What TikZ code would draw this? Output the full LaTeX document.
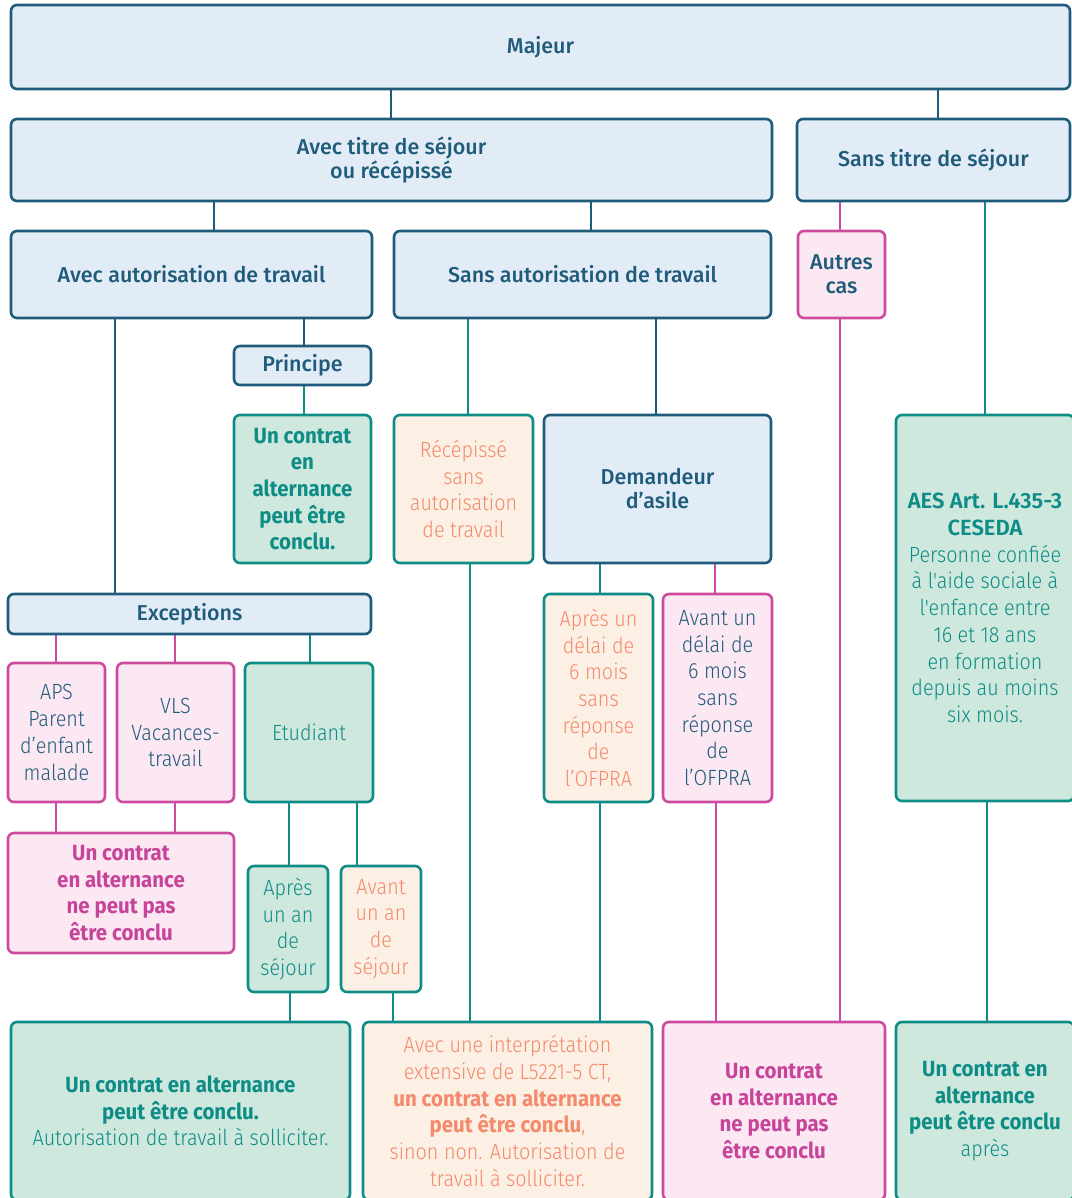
\documentclass[tikz,border=0pt]{standalone}
\usepackage{fontspec}
\setmainfont{Fira Sans}
\newfontfamily\hdf{Fira Sans Medium}
\newfontfamily\hdbf{Fira Sans SemiBold}
\newfontfamily\ltf{Fira Sans Light}[FakeStretch=0.9]
\newfontfamily\bdf{Fira Sans Bold}[FakeStretch=0.93]
\usetikzlibrary{backgrounds}
\definecolor{dblue}{HTML}{1F5B7A}
\definecolor{lblue}{HTML}{E2ECF6}
\definecolor{tealc}{HTML}{0E8C86}
\definecolor{lgreen}{HTML}{CFE8DD}
\definecolor{pinkc}{HTML}{CD4B9F}
\definecolor{pinkt}{HTML}{C6449A}
\definecolor{lpink}{HTML}{FCE8F2}
\definecolor{lpeach}{HTML}{FCF0E5}
\definecolor{peacht}{HTML}{F4896B}
\newcommand\hd{\hdf\fontsize{21.5}{24}\selectfont}
\newcommand\lt{\ltf\fontsize{22}{26.7}\selectfont}
\newcommand\bd{\bdf\fontsize{22}{26.7}\selectfont}
\newcommand\hdbx{\hdbf\fontsize{22}{26.7}\selectfont}
\newcommand\bx[7]{\node[#2, minimum width={(#5)-(#3)}, minimum height={(#6)-(#4)}] (#1) at ({((#3)+(#5))/2},{((#4)+(#6))/2}) {#7};}
\newcommand\vc[4]{\path (#4,0) coordinate (tmpx); \draw[#1] (#2.south -| tmpx) -- (#3.north -| tmpx);}
\tikzset{
  base/.style={rounded corners=6pt, line width=2.6pt, inner sep=0pt, outer sep=0pt, align=center},
  bluebox/.style={base, draw=dblue, fill=lblue, text=dblue, font=\hd},
  greenbox/.style={base, draw=tealc, fill=lgreen, text=tealc},
  pinkbox/.style={base, draw=pinkc, fill=lpink, text=dblue},
  peachbox/.style={base, draw=tealc, fill=lpeach, text=peacht},
  cdb/.style={draw=dblue, line width=2.6pt},
  cte/.style={draw=tealc, line width=2.6pt},
  cpk/.style={draw=pinkc, line width=2.6pt}
}
\begin{document}
\begin{tikzpicture}[x=1pt,y=-1pt]
\useasboundingbox (0,0) rectangle (1071,1198);
% level 1-2
\bx{maj}{bluebox}{11}{5}{1070}{89}{Majeur}
\bx{avt}{bluebox}{11}{119}{772}{201}{Avec titre de séjour\\ou récépissé}
\bx{sst}{bluebox}{797}{119}{1070}{201}{Sans titre de séjour}
\bx{aat}{bluebox}{11}{231}{372}{318}{Avec autorisation de travail}
\bx{sat}{bluebox}{394}{231}{771}{318}{Sans autorisation de travail}
\bx{aut}{pinkbox, font=\hd}{798}{231}{885}{318}{Autres\\cas}
% level 3
\bx{pri}{bluebox}{234}{346}{371}{385}{Principe}
\bx{okp}{greenbox, font=\bd}{234}{415}{371}{563}{Un contrat\\en\\alternance\\peut être\\conclu.}
\bx{rec}{peachbox, font=\lt}{394}{415}{533}{563}{Récépissé\\sans\\autorisation\\de travail}
\bx{dem}{bluebox}{544}{415}{771}{563}{Demandeur\\d’asile}
\bx{aes}{greenbox, font=\lt}{896}{415}{1074}{801}{\hdbx AES Art. L.435-3\\\hdbx CESEDA\\Personne confiée\\à l'aide sociale à\\l'enfance entre\\16 et 18 ans\\en formation\\depuis au moins\\six mois.}
% level 4
\bx{exc}{bluebox}{8}{594}{371}{634}{Exceptions}
\bx{aps}{pinkbox, font=\lt}{8}{663}{105}{802}{APS\\Parent\\d’enfant\\malade}
\bx{vls}{pinkbox, font=\lt}{117}{663}{234}{802}{VLS\\Vacances-\\travail}
\bx{etu}{greenbox, font=\lt}{245}{663}{373}{802}{Etudiant}
\bx{apd}{peachbox, font=\lt}{544}{594}{653}{802}{Après un\\délai de\\6 mois\\sans\\réponse\\de\\l’OFPRA}
\bx{avd}{pinkbox, font=\lt}{663}{594}{772}{802}{Avant un\\délai de\\6 mois\\sans\\réponse\\de\\l’OFPRA}
\bx{nopk}{pinkbox, text=pinkt, font=\bd}{8}{833}{234}{953}{Un contrat\\en alternance\\ne peut pas\\être conclu}
\bx{apan}{greenbox, font=\lt}{248}{866}{328}{992}{Après\\un an\\de\\séjour}
\bx{avan}{peachbox, font=\lt}{341}{866}{421}{992}{Avant\\un an\\de\\séjour}
% bottom
\bx{bl}{greenbox, font=\lt}{11}{1022}{350}{1200}{\bdf Un contrat en alternance\\\bdf peut être conclu.\\Autorisation de travail à solliciter.}
\bx{bm}{peachbox, font=\lt}{363}{1022}{652}{1200}{Avec une interprétation\\extensive de L5221-5 CT,\\\bdf un contrat en alternance\\\bdf peut être conclu\ltf,\\sinon non. Autorisation de\\travail à solliciter.}
\bx{bp}{pinkbox, text=pinkt, font=\bd}{663}{1022}{885}{1200}{Un contrat\\en alternance\\ne peut pas\\être conclu}
\bx{br}{greenbox, font=\bd}{896}{1022}{1074}{1200}{Un contrat en\\alternance\\peut être conclu\\\ltf après}
\begin{scope}[on background layer]
\vc{cdb}{maj}{avt}{391}
\vc{cdb}{maj}{sst}{938}
\vc{cdb}{avt}{aat}{214}
\vc{cdb}{avt}{sat}{591}
\vc{cpk}{sst}{aut}{840}
\vc{cte}{sst}{aes}{985}
\vc{cdb}{aat}{pri}{304}
\vc{cdb}{aat}{exc}{115}
\vc{cte}{pri}{okp}{304}
\vc{cte}{sat}{rec}{468}
\vc{cdb}{sat}{dem}{656}
\vc{cpk}{exc}{aps}{56}
\vc{cpk}{exc}{vls}{175}
\vc{cte}{exc}{etu}{310}
\vc{cpk}{aps}{nopk}{56}
\vc{cpk}{vls}{nopk}{175}
\vc{cte}{etu}{apan}{289}
\vc{cte}{etu}{avan}{357}
\vc{cte}{apan}{bl}{290}
\vc{cte}{avan}{bm}{393}
\vc{cte}{rec}{bm}{470}
\vc{cte}{dem}{apd}{600}
\vc{cpk}{dem}{avd}{715}
\vc{cte}{apd}{bm}{600}
\vc{cpk}{avd}{bp}{716}
\vc{cpk}{aut}{bp}{840}
\vc{cte}{aes}{br}{987}
\end{scope}
\end{tikzpicture}
\end{document}
